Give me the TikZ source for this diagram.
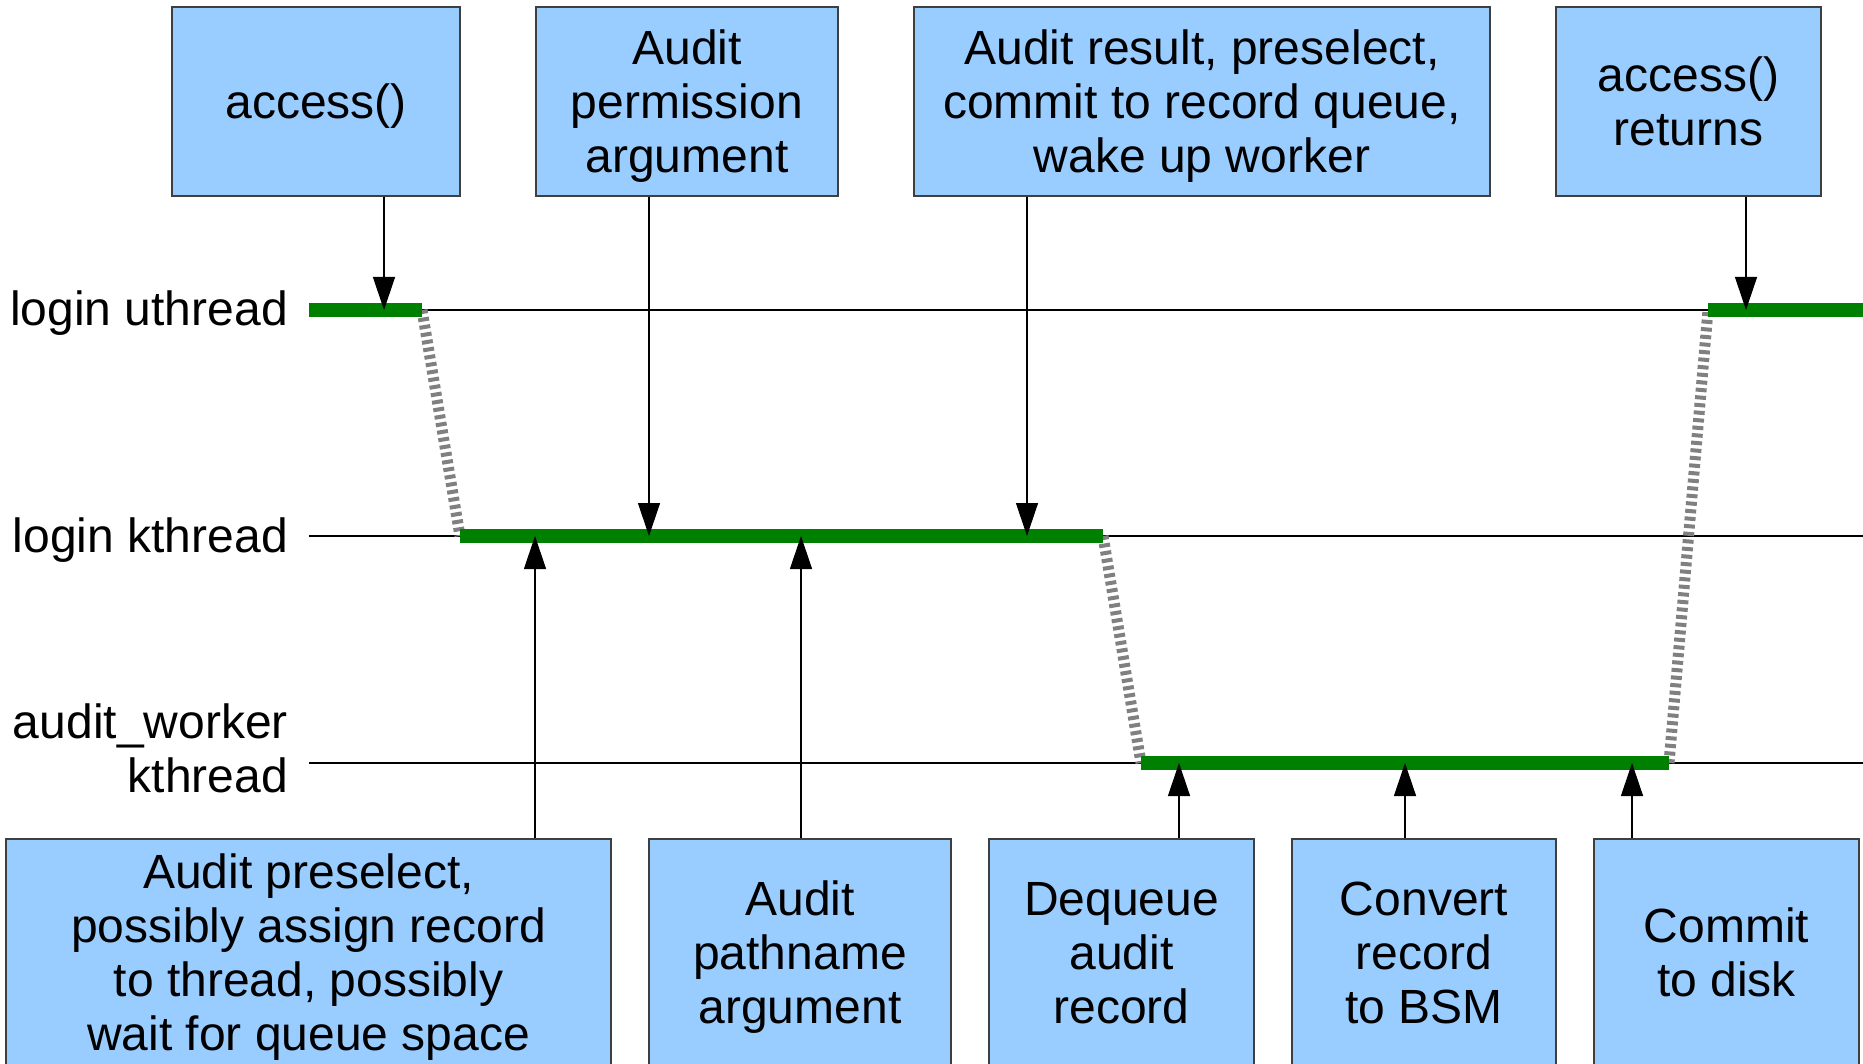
\documentclass[tikz,border=0pt]{standalone}
\usepackage{fontspec}
\setmainfont{Liberation Sans}
\usetikzlibrary{arrows.meta}
\definecolor{boxblue}{HTML}{99CCFF}
\definecolor{boxline}{HTML}{3F3F3F}
\definecolor{busy}{HTML}{008000}
\definecolor{handoff}{HTML}{808080}
% fixed line struts so that every box text is centred the same way
\newcommand\topstrut{\rule{0pt}{45.2pt}}
\newcommand\botstrut{\rule[-12pt]{0pt}{12pt}}
\tikzset{
  evbox/.style={draw=boxline, line width=1.5pt, fill=boxblue, inner sep=0pt,
    align=center, font=\fontsize{48}{54}\selectfont},
  lanelabel/.style={inner sep=0pt, align=right, font=\fontsize{48}{54}\selectfont},
  lane/.style={line width=1.3pt, black},
  busybar/.style={line width=14pt, busy},
  switch/.style={line width=11pt, handoff, dash pattern=on 4pt off 3.6pt},
  evarrow/.style={line width=1.3pt, -{Triangle[length=33pt,width=22pt]}}
}
\begin{document}
\begin{tikzpicture}[x=1pt,y=-1pt]
\useasboundingbox (0,0) rectangle (1863,1064);
\clip (0,0) rectangle (1863,1064);

% thread lanes
\coordinate (u0) at (309,310);  \coordinate (u9) at (1863,310);
\coordinate (k0) at (309,536);  \coordinate (k9) at (1863,536);
\coordinate (w0) at (309,763);  \coordinate (w9) at (1863,763);
\draw[lane] (u0) -- (u9);
\draw[lane] (k0) -- (k9);
\draw[lane] (w0) -- (w9);

\node[lanelabel, anchor=base east] (lu) at (288,326) {login uthread};
\node[lanelabel, anchor=base east] (lk) at (288,552) {login kthread};
\node[lanelabel, anchor=base east] (lw1) at (288,738) {audit\_worker};
\node[lanelabel, anchor=base east] (lw2) at (288,792) {kthread};

% running intervals
\coordinate (ua) at (309,310);  \coordinate (ub) at (422,310);
\coordinate (uc) at (1708,310); \coordinate (ud) at (1863,310);
\coordinate (ka) at (460,536);  \coordinate (kb) at (1103,536);
\coordinate (wa) at (1141,763); \coordinate (wb) at (1669,763);

% context switches
\draw[switch] (ub) -- (ka);
\draw[switch] (kb) -- (wa);
\draw[switch] (wb) -- (uc);

\draw[busybar] (ua) -- (ub);
\draw[busybar] (uc) -- (ud);
\draw[busybar] (ka) -- (kb);
\draw[busybar] (wa) -- (wb);

% event boxes above
\node[evbox, minimum width=288pt, minimum height=189pt] (acc) at (316,101.5) {\topstrut access()\botstrut};
\node[evbox, minimum width=302pt, minimum height=189pt] (perm) at (687,101.5) {\topstrut Audit\\permission\\argument\botstrut};
\node[evbox, minimum width=576pt, minimum height=189pt] (res) at (1202,101.5) {\topstrut Audit result, preselect,\\commit to record queue,\\wake up worker\botstrut};
\node[evbox, minimum width=265pt, minimum height=189pt] (ret) at (1688.5,101.5) {\topstrut access()\\returns\botstrut};

% event boxes below
\node[evbox, minimum width=605pt, minimum height=228pt] (pre) at (308.5,953) {\topstrut Audit preselect,\\possibly assign record\\to thread, possibly\\wait for queue space\botstrut};
\node[evbox, minimum width=302pt, minimum height=228pt] (path) at (800,953) {\topstrut Audit\\pathname\\argument\botstrut};
\node[evbox, minimum width=265pt, minimum height=228pt] (deq) at (1121.5,953) {\topstrut Dequeue\\audit\\record\botstrut};
\node[evbox, minimum width=264pt, minimum height=228pt] (conv) at (1424,953) {\topstrut Convert\\record\\to BSM\botstrut};
\node[evbox, minimum width=265pt, minimum height=228pt] (com) at (1726.5,953) {\topstrut Commit\\to disk\botstrut};

% event points on the lanes
\coordinate (e1) at (384,310);
\coordinate (e2) at (649,536);
\coordinate (e3) at (1027,536);
\coordinate (e4) at (1746,310);
\coordinate (e5) at (535,536);
\coordinate (e6) at (801,536);
\coordinate (e7) at (1179,763);
\coordinate (e8) at (1405,763);
\coordinate (e9) at (1632,763);

\draw[evarrow] (acc.south -| e1) -- (e1);
\draw[evarrow] (perm.south -| e2) -- (e2);
\draw[evarrow] (res.south -| e3) -- (e3);
\draw[evarrow] (ret.south -| e4) -- (e4);
\draw[evarrow] (pre.north -| e5) -- (e5);
\draw[evarrow] (path.north -| e6) -- (e6);
\draw[evarrow] (deq.north -| e7) -- (e7);
\draw[evarrow] (conv.north -| e8) -- (e8);
\draw[evarrow] (com.north -| e9) -- (e9);
\end{tikzpicture}
\end{document}
